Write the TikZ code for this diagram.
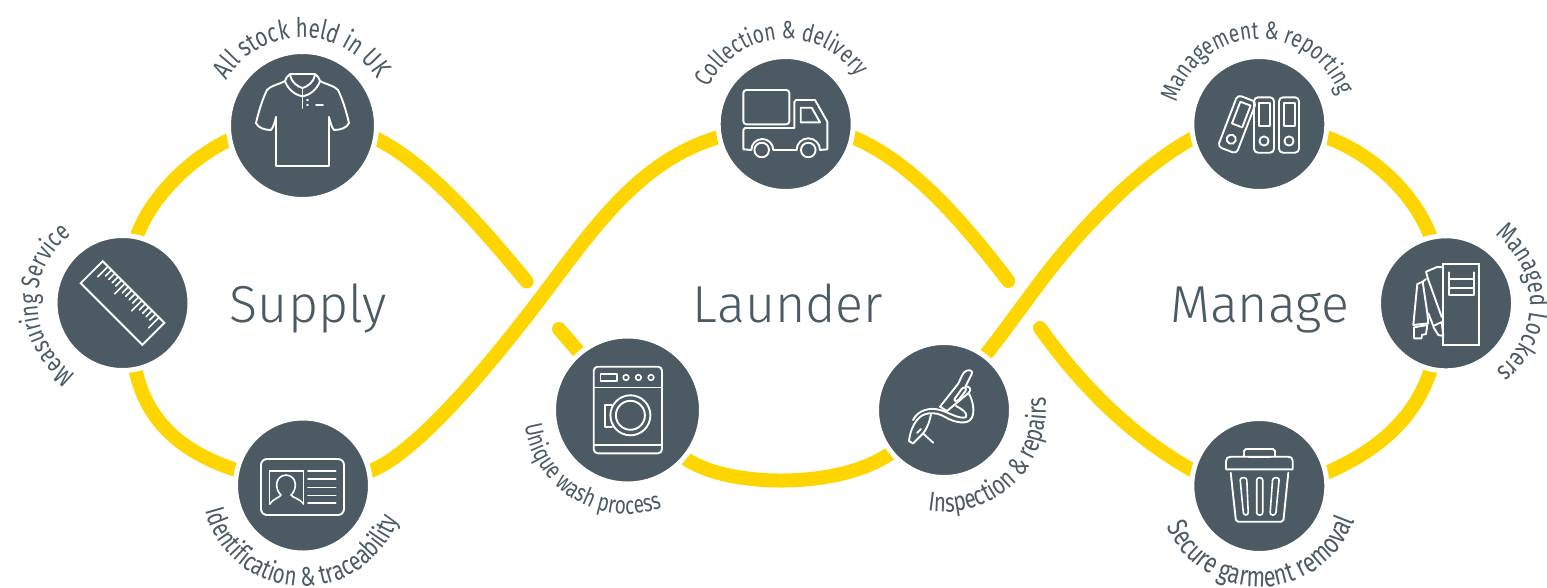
\documentclass[tikz,border=0pt]{standalone}
\usepackage{fontspec}
\usetikzlibrary{calc,decorations.text}
\newfontfamily\labelf[FakeStretch=0.76]{Fira Sans}
\newfontfamily\headf[UprightFont=* Light]{Fira Sans}
\definecolor{slate}{HTML}{4B5A63}
\definecolor{band}{HTML}{FFD500}
\pgfdeclarelayer{under}
\pgfsetlayers{under,main}
\tikzset{
  hub/.style={circle,fill=slate,draw=white,line width=5pt,outer sep=0pt,inner sep=0pt,minimum size=#1},
  ribbon/.style={draw=band,line width=14pt,line cap=round},
  icon/.style={draw=white,line width=1.9pt,line join=round,line cap=round},
  thin icon/.style={icon,line width=1.6pt},
  heading/.style={anchor=base,text=slate,font=\headf\fontsize{52}{52}\selectfont,inner sep=0pt},
}
% node, middle angle, direction (1 clockwise, -1 counter-clockwise), radius, text, size
\newcommand{\arclabel}[6]{%
  \pgfmathsetmacro{\arcA}{#2+#3*100}%
  \pgfmathsetmacro{\arcB}{#2-#3*100}%
  \path[decorate,decoration={text along path,text align={center},
    text={|\color{slate}\labelf\fontsize{#6}{#6}\selectfont|#5}}]
    ($(#1.center)+(\arcA:#4pt)$) arc[start angle=\arcA,end angle=\arcB,radius=#4pt];}
\begin{document}
\begin{tikzpicture}[x=1pt,y=-1pt]
\useasboundingbox (0,0) rectangle (1547,587);
% hubs
\node[hub=148pt] (shirt) at (302.5,125.5) {};
\node[hub=135pt] (ruler) at (122.5,303) {};
\node[hub=135pt] (card) at (303,485.5) {};
\node[hub=148pt] (washer) at (627.5,410) {};
\node[hub=135pt] (truck) at (785.7,124) {};
\node[hub=135pt] (needle) at (944,410) {};
\node[hub=135pt] (folders) at (1259.3,124) {};
\node[hub=135pt] (locker) at (1446,303.3) {};
\node[hub=135pt] (bin) at (1259.3,486) {};
\coordinate (endA) at (526.7,281.5);
\coordinate (endB) at (559,329);
\coordinate (endC) at (1008.3,281);
\coordinate (endD) at (1040,328);
% ribbons
\begin{pgfonlayer}{under}
\path[ribbon] (ruler.78) .. controls (150,198) and (190,158) .. (shirt.191);
\path[ribbon] (shirt.-10) .. controls (425,162) and (480,225) .. (endA);
\path[ribbon] (ruler.-79) .. controls (146,420) and (180,452) .. (card.167);
\path[ribbon] (card.12) .. controls (415,455) and (490,365) .. (541.7,296.7) .. controls (595,226) and (640,160) .. (truck.191);
\path[ribbon] (truck.-11) .. controls (908,160) and (958,215) .. (endC);
\path[ribbon] (endB) -- (washer.130);
\path[ribbon] (washer.-40) .. controls (725,488) and (840,490) .. (needle.219);
\path[ribbon] (needle.53) .. controls (1003,333) and (1020,309) .. (1036.7,286.7) .. controls (1060,255) and (1125,175) .. (folders.192);
\path[ribbon] (endD) .. controls (1070,370) and (1120,430) .. (bin.167);
\path[ribbon] (folders.-11) .. controls (1375,155) and (1415,195) .. (locker.103);
\path[ribbon] (locker.257) .. controls (1415,420) and (1375,452) .. (bin.11);
\end{pgfonlayer}
% headings
\node[heading] (hsupply) at (308.5,322) {Supply};
\node[heading] (hlaunder) at (788,322) {Launder};
\node[heading] (hmanage) at (1259.5,322) {Manage};
% labels
\arclabel{shirt}{90.5}{1}{88}{All stock held in UK}{27}
\arclabel{ruler}{181.75}{1}{85}{Measuring Service}{26}
\arclabel{card}{267.5}{-1}{101}{Identification {\&} traceability}{27}
\arclabel{washer}{239}{-1}{104}{Unique wash process}{25}
\arclabel{truck}{94}{1}{85}{Collection {\&} delivery}{25}
\arclabel{needle}{314}{-1}{102}{Inspection {\&} repairs}{27}
\arclabel{folders}{92.5}{1}{85}{Management {\&} reporting}{25}
\arclabel{locker}{0.5}{1}{84}{Managed Lockers}{26.5}
\arclabel{bin}{272}{-1}{101}{Secure garment removal}{28.5}
% shirt icon
\draw[icon] (276,117) -- (276,166) -- (329,166) -- (329,117);
\draw[icon] (276,117) .. controls (275,122) and (273,128) .. (271,130) .. controls (265,130) and (258,128) .. (256,123) .. controls (259,110) and (263,98) .. (267,90) .. controls (270,86) and (280,84) .. (285,81);
\draw[icon] (329,117) .. controls (330,122) and (332,128) .. (334,130) .. controls (340,130) and (347,128) .. (349,123) .. controls (346,110) and (342,98) .. (338,90) .. controls (335,86) and (325,84) .. (320,81);
\draw[icon] (285,81) .. controls (285,78) and (288,76) .. (290,74) -- (315,74) .. controls (317,76) and (320,78) .. (320,81) .. controls (317,90) and (309,95) .. (304,96) -- (301,96) .. controls (296,95) and (288,90) .. (285,81);
\draw[icon] (290,75) .. controls (291,82) and (298,87) .. (302.5,88) .. controls (307,87) and (314,82) .. (315,75);
\draw[icon] (302.5,88) -- (302.5,108);
\draw[icon] (307,100) -- (308,100) (307,105) -- (308,105) (316,105) -- (323,105);
% ruler icon
\begin{scope}[shift={(122.5,303)},rotate=-45]
\draw[icon,line join=miter] (-43.6,-15.5) rectangle (43.6,15.5);
\foreach \k in {0,...,15}{
  \pgfmathsetmacro{\tk}{-36+4.8*\k}
  \pgfmathsetmacro{\tl}{mod(\k,5)==0 ? -1 : -7}
  \draw[thin icon] (\tk,-15.5) -- (\tk,\tl);
}
\end{scope}
% card icon
\draw[icon,rounded corners=6pt] (261,459) rectangle (344,515);
\draw[thin icon] (269.6,504) -- (269.6,470.7) -- (303.6,470.7) -- (303.6,504);
\draw[thin icon] (270,504) .. controls (274,498) and (279,498) .. (281,495) .. controls (275,490) and (274,476) .. (286,475) .. controls (298,476) and (297,490) .. (291,495) .. controls (293,498) and (299,498) .. (303.6,504);
\foreach \yy in {471,479,487.5,495.3,502.7}{\draw[thin icon] (308,\yy) -- (335.7,\yy);}
% washer icon
\draw[icon,rounded corners=4pt] (593.7,366.7) rectangle (662,453.3);
\draw[thin icon] (593.7,387.3) -- (662,387.3) (593.7,445) -- (662,445);
\draw[thin icon] (600.4,374) rectangle (617,381);
\foreach \xx in {626,638.4,651}{\draw[thin icon] (\xx,377.5) circle[radius=2.8pt];}
\draw[icon] (630.4,415.3) circle[radius=20pt];
\draw[icon] (630.4,415.3) circle[radius=14.5pt];
\draw[thin icon] (612,405) -- (605,405) -- (605,426.7) -- (612,426.7);
% truck icon
\draw[icon,rounded corners=3pt] (743.3,90) rectangle (789.3,124.3);
\draw[icon] (794.3,128) -- (794.3,102) -- (796,100) -- (815,100) -- (827.3,121.7) -- (827.3,149.3) -- (820,150) arc[start angle=0,end angle=180,radius=11.7pt] -- (773.3,150) arc[start angle=0,end angle=180,radius=11pt] -- (743.3,149.3) -- (743.3,130) -- (745,128) -- (794.3,128);
\draw[icon] (800.7,107.7) -- (811.7,107.7) -- (820,122.3) -- (800.7,122.3) -- cycle;
\draw[icon] (761.7,150) circle[radius=7.3pt] (808.3,150) circle[radius=7.3pt];
% needle icon
\draw[icon] (940,406.7) -- (958.3,383.5) .. controls (961,378) and (963,372) .. (966,371) .. controls (970,369) and (973,371) .. (971.7,374) -- (965.5,386.5) .. controls (970,386) and (972,390) .. (968.5,393) -- (947,411) -- cycle;
\draw[icon] (955,398.3) -- (961.7,389) .. controls (964,386) and (967,388) .. (965.5,391) -- (959,399.5) .. controls (956,402) and (953,401) .. (955,398.3);
\draw[icon] (968.5,393) .. controls (973,400) and (975,412) .. (971.7,418) .. controls (968,425) and (955,423) .. (945,417) .. controls (935,411) and (923,412) .. (917,420) .. controls (913,425) and (910,432) .. (909,441);
\draw[icon] (956,406) .. controls (962,409) and (968,413) .. (966,417) .. controls (960,420) and (948,412) .. (940,410) .. controls (930,407) and (918,410) .. (913,420);
\draw[icon] (909,441) -- (913,443.5) -- (923,433.5) .. controls (928,427) and (930,420) .. (931,414);
\draw[icon] (923,433.5) -- (933.3,442.8) (917,433) -- (921,429);
% folder icons
\foreach \fx in {1264,1289}{
\begin{scope}[shift={(\fx,125)}]
\draw[icon,rounded corners=4pt] (-10,-27.7) rectangle (10,27.7);
\draw[icon] (-5,-22.3) rectangle (6,1);
\draw[icon] (0,16) circle[radius=4.6pt];
\end{scope}}
\begin{scope}[shift={(1237,124.3)},rotate=-21]
\draw[icon,rounded corners=4pt] (-10,-27.7) rectangle (10,27.7);
\draw[icon] (-5,-22.3) rectangle (6,1);
\draw[icon] (0,16) circle[radius=4.6pt];
\end{scope}
% locker icon
\draw[icon,line join=miter] (1443.3,264.3) rectangle (1479.3,345);
\draw[icon] (1449,272.3) -- (1449,295) -- (1474,295) -- (1474,272.3) (1449,279) -- (1474,279) (1449,287.7) -- (1474,287.7);
\draw[icon] (1443.3,267.3) -- (1437,267) -- (1426,271.7) -- (1428,279) -- (1441.7,317);
\draw[icon] (1426,279) -- (1422.7,281.7) -- (1417.3,284) -- (1413.3,325) -- (1428.3,323.3) -- (1427.3,313.3) -- (1422.7,281.7);
\draw[icon] (1414,327.3) -- (1427.3,325) -- (1426,334) -- (1421.7,335) -- (1421.7,338.3) -- (1414,338.3) -- cycle;
\draw[icon] (1428.3,313.3) -- (1433.3,326) -- (1441.7,322) -- (1443.3,336) -- (1438.3,335) -- (1433.3,327);
% bin icon
\draw[icon] (1226,469.3) -- (1226,461) .. controls (1226,458) and (1228,456.7) .. (1231,456.7) -- (1288,456.7) .. controls (1291,456.7) and (1292.7,458) .. (1292.7,461) -- (1292.7,469.3) -- cycle;
\draw[icon] (1244,456.7) -- (1244,451) -- (1246,449) -- (1273,449) -- (1275,451) -- (1275,456.7);
\draw[icon] (1249,457.5) -- (1270,457.5);
\draw[icon,rounded corners=2pt] (1230.7,472.7) -- (1236,521.7) -- (1283.3,521.7) -- (1288.3,472.7);
\draw[thin icon,rounded corners=2.5pt] (1240,477.7) -- (1246.7,477.7) -- (1248.3,515) -- (1243.5,515) -- cycle;
\draw[thin icon,rounded corners=2.5pt] (1256.7,477.7) -- (1262.7,477.7) -- (1262.7,515) -- (1256.7,515) -- cycle;
\draw[thin icon,rounded corners=2.5pt] (1272.7,477.7) -- (1279.3,477.7) -- (1275.7,515) -- (1270,515) -- cycle;
\end{tikzpicture}
\end{document}
